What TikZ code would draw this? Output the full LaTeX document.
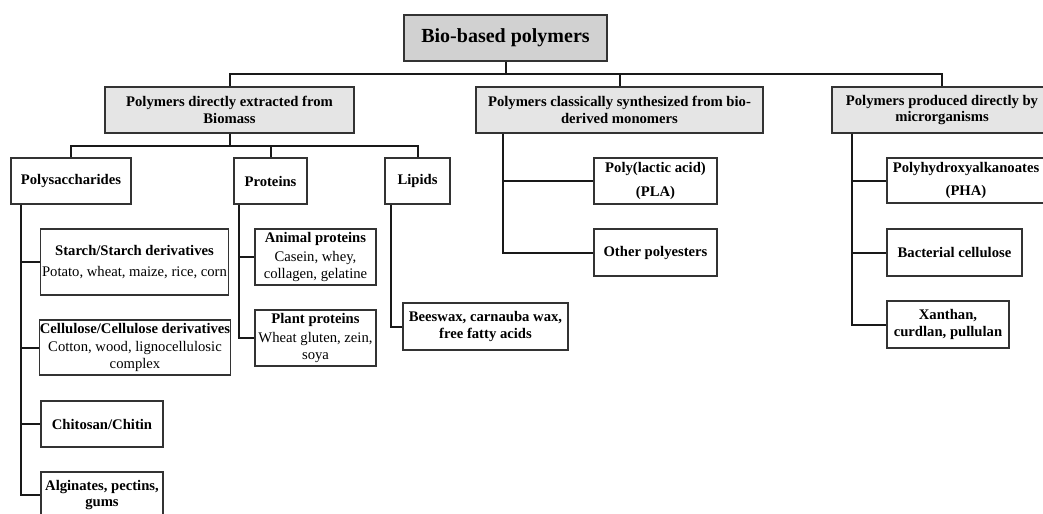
\documentclass[tikz,border=0pt]{standalone}
\usepackage{fontspec}
\setmainfont{Liberation Serif}
\usepackage{tikz}
\usetikzlibrary{positioning,calc}
\tikzset{
  box/.style 2 args={draw=black!80,line width=0.8pt,align=center,inner sep=1pt,
            minimum width=#1*0.75pt,minimum height=#2*0.75pt,
            font=\fontsize{11}{12.5}\selectfont},
  rootbox/.style 2 args={box={#1}{#2},fill=black!18,line width=1.6pt,
            font=\fontsize{15}{17}\selectfont\bfseries},
  groupbox/.style 2 args={box={#1}{#2},fill=black!10,font=\fontsize{11}{12.5}\selectfont\bfseries},
  catbox/.style 2 args={box={#1}{#2},font=\fontsize{11}{12.5}\selectfont\bfseries},
  itembox/.style 2 args={box={#1}{#2}},
  link/.style={line width=1.5pt,black!90},
}

\begin{document}
\begin{tikzpicture}[x=0.75pt,y=-0.75pt]
  \fill[white] (0,0) rectangle (1043,514);
  \useasboundingbox (0,0) rectangle (1043,514);
  \node[rootbox={203}{46}] (root) at (505.5,38) {Bio-based polymers};
  % first level
  \node[groupbox={249}{46}] (extr) at (229.5,110) {Polymers directly extracted from\\Biomass};
  \node[groupbox={287}{46}] (synth) at (619.5,110) {Polymers classically synthesized from bio-\\derived monomers};
  \node[groupbox={220}{46}] (micro) at (942,110) {Polymers produced directly by\\microrganisms};
  \draw[link] (root.south) -- ++(0,12) -| (extr.north);
  \draw[link] (root.south) -- ++(0,12) -| (synth.north);
  \draw[link] (root.south) -- ++(0,12) -| (micro.north);
  % extracted from biomass
  \node[catbox={120}{46}] (poly) at (71,181) {Polysaccharides};
  \node[catbox={73}{46}] (prot) at (270.5,181) {Proteins};
  \node[catbox={65}{46}] (lip) at (417.5,181) {Lipids};
  \draw[link] (extr.south) -- ++(0,12) -| (poly.north);
  \draw[link] (extr.south) -- ++(0,12) -| (prot.north);
  \draw[link] (extr.south) -- ++(0,12) -| (lip.north);
  % polysaccharides
  \node[itembox={187}{66}] (starch) at (134.5,262) {\textbf{Starch/Starch derivatives}\\[3pt]Potato, wheat, maize, rice, corn};
  \node[itembox={188}{55},inner xsep=0pt] (cell) at (135,347.5) {\textbf{Cellulose/Cellulose derivatives}\\[1pt]Cotton, wood, lignocellulosic\\complex};
  \node[catbox={122}{46}] (chit) at (102,424) {Chitosan/Chitin};
  \node[catbox={122}{46}] (algin) at (102,495) {Alginates, pectins,\\gums};
  \coordinate (polytrunk) at ($(poly.south west)+(11,0)$);
  \foreach \n in {starch,cell,chit,algin}
    \draw[link] (polytrunk) |- (\n.west);
  % proteins
  \node[itembox={121}{56}] (anim) at (315.5,257) {\textbf{Animal proteins}\\[2pt]Casein, whey,\\collagen, gelatine};
  \node[itembox={121}{56}] (plant) at (315.5,338) {\textbf{Plant proteins}\\[2pt]Wheat gluten, zein,\\soya};
  \coordinate (prottrunk) at ($(prot.south west)+(6,0)$);
  \foreach \n in {anim,plant}
    \draw[link] (prottrunk) |- (\n.west);
  % lipids
  \node[catbox={165}{47}] (wax) at (485.5,326.5) {Beeswax, carnauba wax,\\free fatty acids};
  \draw[link] ($(lip.south west)+(7,0)$) |- (wax.west);
  % synthesized
  \node[catbox={123}{46}] (pla) at (655.5,181) {Poly(lactic acid)\\[5pt](PLA)};
  \node[catbox={123}{47}] (opol) at (655.5,252.5) {Other polyesters};
  \coordinate (synthtrunk) at ($(synth.south west)+(28,0)$);
  \foreach \n in {pla,opol}
    \draw[link] (synthtrunk) |- (\n.west);
  % microorganisms
  \node[catbox={158}{45}] (pha) at (966,180.5) {Polyhydroxyalkanoates\\[5pt](PHA)};
  \node[catbox={135}{47}] (bact) at (954.5,252.5) {Bacterial cellulose};
  \node[catbox={122}{47}] (xan) at (948,324.5) {Xanthan,\\curdlan, pullulan};
  \coordinate (microtrunk) at ($(micro.south west)+(21,0)$);
  \foreach \n in {pha,bact,xan}
    \draw[link] (microtrunk) |- (\n.west);
\end{tikzpicture}
\end{document}
